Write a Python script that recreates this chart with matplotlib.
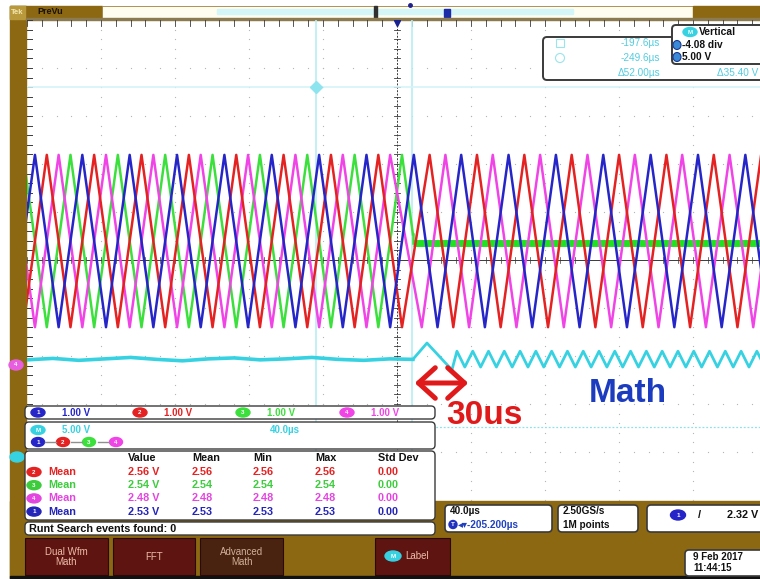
import numpy as np
import matplotlib.pyplot as plt
from matplotlib.patches import Rectangle, FancyBboxPatch, Ellipse, FancyArrowPatch

W, H = 760, 579

# ---- acquisition / trace data (time in us from screen centre, level in divisions) ----
TIME_PER_DIV_US = 40.0
CARRIER_PERIOD_US = 25.6
FIRST_PEAK_US = -195.7
TRI_HIGH_DIV = 2.19
TRI_LOW_DIV = -1.40
FAULT_US = 8.6
GREEN_HOLD_DIV = 0.35

CH_NAMES = ["1", "2", "3", "4"]
CH_COLORS = ["#2626c8", "#e42222", "#3ce03c", "#f044e6"]
PHASE_BEFORE = [0.0, 0.25, 0.75, 0.5]
PHASE_AFTER = [0.0, 1 / 3, None, 2 / 3]
DRAW_ORDER = [2, 3, 1, 0]

MATH_COLOR = "#36d2e2"
MATH_PRE_T = [-200, -186, -172, -158, -144, -130, -116, -102, -88, -74, -60, -46, -32, -18, -4, 8.6]
MATH_PRE_V = [-2.08, -2.05, -2.09, -2.06, -2.03, -2.07, -2.10, -2.06, -2.04, -2.08, -2.06, -2.03,
              -2.07, -2.09, -2.06, -2.07]
MATH_STEP_T = [8.6, 16.2, 29.7]
MATH_STEP_V = [-2.07, -1.73, -2.29]
RIPPLE_FIRST_PEAK_US = 32.4
RIPPLE_HIGH = -1.90
RIPPLE_LOW = -2.23

CURSOR_T = [-43.9, 8.1]
CURSOR_V = [3.60, -3.48]

# ---- readouts ----
MEAS_COLS = ["Value", "Mean", "Min", "Max", "Std Dev"]
MEAS_ROWS = [
    ("#e42222", ["2.56 V", "2.56", "2.56", "2.56", "0.00"]),
    ("#3ccc3c", ["2.54 V", "2.54", "2.54", "2.54", "0.00"]),
    ("#e444e0", ["2.48 V", "2.48", "2.48", "2.48", "0.00"]),
    ("#2424b8", ["2.53 V", "2.53", "2.53", "2.53", "0.00"]),
]
CH_SCALE = ["1.00 V", "1.00 V", "1.00 V", "1.00 V"]

BROWN = "#8c6812"
MAROON = "#5e1410"
FONTS = ["Liberation Sans", "DejaVu Sans"]
UI = dict(family=FONTS, fontweight="bold")


def tri_vertices(t0, t1, phase, period, first_peak, hi, lo):
    half = period / 2
    start = first_peak + phase * period
    k0 = np.floor((t0 - start) / half) - 1
    k1 = np.ceil((t1 - start) / half) + 1
    ks = np.arange(k0, k1 + 1).astype(int)
    ts = start + ks * half
    vs = np.where(ks % 2 == 0, hi, lo)
    return ts, vs


def segment(t0, t1, phase, period, first_peak, hi, lo):
    ts, vs = tri_vertices(t0, t1, phase, period, first_peak, hi, lo)
    keep = (ts > t0) & (ts < t1)
    tt = np.concatenate([[t0], ts[keep], [t1]])
    vv = np.concatenate([[np.interp(t0, ts, vs)], vs[keep], [np.interp(t1, ts, vs)]])
    return tt, vv


fig = plt.figure(figsize=(W / 100, H / 100), dpi=100)

# bezel / background in pixel coordinates
bg = fig.add_axes([0, 0, 1, 1], zorder=0)
bg.set_xlim(0, W)
bg.set_ylim(H, 0)
bg.axis("off")
bg.add_patch(Rectangle((10, 6), 16, H - 6, color=BROWN))
bg.add_patch(Rectangle((10, 6), 92, 13, color=BROWN))
bg.add_patch(Rectangle((10, 6), 15, 13, color="#b89a3c"))
bg.text(17, 12.5, "Tek", color="#f4e6b0", fontsize=5.5, ha="center", va="center", **UI)
bg.text(37, 12, "PreVu", color="#1a1206", fontsize=6.5, va="center", **UI)
bg.add_patch(Rectangle((102, 6), 591, 12, facecolor="#fffdf0", edgecolor="#a08040", lw=0.6))
bg.add_patch(Rectangle((217, 9), 356, 5, color="#d4f6f8"))
bg.add_patch(Rectangle((693, 6), 67, 13, color=BROWN))
bg.add_patch(Rectangle((374, 6), 2.5, 12, color="#303030"))
bg.add_patch(Rectangle((444, 9), 6, 8, color="#1c2ca8"))
bg.plot([410], [5], marker="o", ms=2.5, color="#20208a")
bg.add_patch(Rectangle((26, 18), 734, 2, color="#8c7a50"))
bg.add_patch(Rectangle((10, 501), 750, 76, color=BROWN))
bg.add_patch(Rectangle((10, 576), 750, 3, color="#111111"))

# waveform area: 10 x 10 divisions, 74 px x 48 px per division
x_left, x_right, y_top, y_bot = 27, 767, 20, 500
ax = fig.add_axes([x_left / W, (H - y_bot) / H, (x_right - x_left) / W, (y_bot - y_top) / H], zorder=1)
ax.set_xlim(-5 * TIME_PER_DIV_US, 5 * TIME_PER_DIV_US)
ax.set_ylim(-5, 5)
ax.axis("off")
ax.patch.set_alpha(0)

# graticule dots
for k in range(-4, 5):
    if k == 0:
        continue
    t = k * TIME_PER_DIV_US
    vv = np.arange(-5, 5.01, 0.2)
    ax.scatter(np.full_like(vv, t), vv, s=0.8, color="#b4b4b4", lw=0)
    ax.scatter(np.arange(-200, 201, 8), np.full(51, float(k)), s=0.8, color="#b4b4b4", lw=0)
# centre axes with ticks
ax.axhline(0, color="#3a3a3a", lw=0.7)
ax.axvline(0, color="#3a3a3a", lw=0.7, ls=(0, (2, 1.5)))
for t in np.arange(-200, 201, 8):
    ax.plot([t, t], [-0.06, 0.06], color="#3a3a3a", lw=0.5)
    ax.plot([t, t], [5, 4.88], color="#3a3a3a", lw=0.6)
for v in np.arange(-5, 5.01, 0.2):
    ax.plot([-1.5, 1.5], [v, v], color="#3a3a3a", lw=0.6)
    ax.plot([-200, -197.5], [v, v], color="#3a3a3a", lw=0.7)
ax.plot([0], [4.93], marker="v", ms=5, color="#1a2290")

# cursors
for t in CURSOR_T:
    ax.axvline(t, color="#b8eef4", lw=1.2)
ax.axhline(CURSOR_V[0], color="#d4f4f8", lw=1.2)
ax.axhline(CURSOR_V[1], color="#8fe0ea", lw=0.9, ls=(0, (1.5, 1.5)))
ax.plot([CURSOR_T[0]], [CURSOR_V[0]], marker="D", ms=6, color="#8ce4ee")

# channel traces
for i in DRAW_ORDER:
    if PHASE_AFTER[i] is None:
        t_pre, v_pre = segment(-201, FAULT_US, PHASE_BEFORE[i], CARRIER_PERIOD_US, FIRST_PEAK_US,
                               TRI_HIGH_DIV, TRI_LOW_DIV)
        ax.plot(t_pre, v_pre, color=CH_COLORS[i], lw=1.8)
        ax.plot([FAULT_US, FAULT_US], [v_pre[-1], GREEN_HOLD_DIV], color=CH_COLORS[i], lw=1.8)
        ax.plot([FAULT_US, 201], [GREEN_HOLD_DIV, GREEN_HOLD_DIV], color="#22e022", lw=5,
                solid_capstyle="butt")
        continue
    ta, va = tri_vertices(-201, FAULT_US, PHASE_BEFORE[i], CARRIER_PERIOD_US, FIRST_PEAK_US,
                          TRI_HIGH_DIV, TRI_LOW_DIV)
    tb, vb = tri_vertices(FAULT_US, 201, PHASE_AFTER[i], CARRIER_PERIOD_US, FIRST_PEAK_US,
                          TRI_HIGH_DIV, TRI_LOW_DIV)
    tt = np.concatenate([ta[ta < FAULT_US], tb[tb > FAULT_US]])
    vv = np.concatenate([va[ta < FAULT_US], vb[tb > FAULT_US]])
    # the phase jump can leave two equal vertices in a row; keep the ramp continuous
    keep = np.concatenate([[True], vv[1:] != vv[:-1]])
    ax.plot(tt[keep], vv[keep], color=CH_COLORS[i], lw=1.8)

# math trace
rt, rv = segment(RIPPLE_FIRST_PEAK_US, 201, 0.0, CARRIER_PERIOD_US / 3, RIPPLE_FIRST_PEAK_US,
                 RIPPLE_HIGH, RIPPLE_LOW)
ax.plot(MATH_PRE_T, MATH_PRE_V, color=MATH_COLOR, lw=2.6)
ax.plot(np.concatenate([MATH_STEP_T, rt]), np.concatenate([MATH_STEP_V, rv]), color=MATH_COLOR, lw=2.0)

# overlay: readout panels and annotations
ov = fig.add_axes([0, 0, 1, 1], zorder=2)
ov.set_xlim(0, W)
ov.set_ylim(H, 0)
ov.axis("off")
ov.patch.set_alpha(0)


def panel(x, y, w, h, fc="white", ec="#3a3a3a", lw=1.0, r=4):
    ov.add_patch(FancyBboxPatch((x, y), w, h, boxstyle=f"round,pad=0,rounding_size={r}",
                                facecolor=fc, edgecolor=ec, lw=lw))


def badge(x, y, color, label="", w=14, h=9):
    ov.add_patch(Ellipse((x, y), w, h, color=color))
    if label:
        ov.text(x, y + 0.3, label, color="white", fontsize=4.5, ha="center", va="center", **UI)


ov.add_patch(Ellipse((16, 365), 14, 10, color="#e85ee0"))
ov.text(16, 365, "4", color="white", fontsize=4.5, ha="center", va="center", **UI)
ov.add_patch(Ellipse((17, 457), 14, 10, color=MATH_COLOR))

# channel scale bar
panel(25, 406, 410, 13)
for i, x in enumerate([38, 140, 243, 347]):
    badge(x, 412.5, CH_COLORS[i], CH_NAMES[i])
    ov.text(x + 24, 412.5, CH_SCALE[i], color=CH_COLORS[i], fontsize=7, va="center", **UI)

# math definition panel
panel(25, 422, 410, 27)
badge(38, 430, MATH_COLOR, "M")
ov.text(62, 430, "5.00 V", color=MATH_COLOR, fontsize=7, va="center", **UI)
ov.text(270, 430, "40.0\u00b5s", color=MATH_COLOR, fontsize=7, va="center", **UI)
for i, x in enumerate([38, 63, 89, 116]):
    if i:
        ov.plot([x - 18, x - 7], [442, 442], color="#909090", lw=1)
    badge(x, 442, CH_COLORS[i], CH_NAMES[i], w=13)

# measurement table
panel(25, 451, 410, 69)
col_x = [128, 192, 253, 315, 378]
for x, name in zip(col_x, MEAS_COLS):
    ov.text(x, 458, name, color="#111111", fontsize=7.8, va="center", **UI)
for r, (color, vals) in enumerate(MEAS_ROWS):
    y = 472 + r * 13.2
    badge(34, y, color, CH_NAMES[[1, 2, 3, 0][r]])
    ov.text(48, y, "Mean", color=color, fontsize=7.8, va="center", **UI)
    for x, v in zip(col_x, vals):
        ov.text(x, y, v, color=color, fontsize=7.8, va="center", **UI)

panel(25, 522, 410, 13)
ov.text(29, 528.5, "Runt Search events found: 0", color="#111111", fontsize=7.8, va="center", **UI)

# soft keys
for x0, x1, label, fc, tc in [(25, 108, "Dual Wfm\nMath", MAROON, "#eebca8"),
                             (113, 195, "FFT", MAROON, "#eebca8"),
                             (200, 283, "Advanced\nMath", "#4a2210", "#d0b098")]:
    ov.add_patch(Rectangle((x0, 538), x1 - x0, 37, facecolor=fc, edgecolor="#2a0a06", lw=0.8))
    ov.text((x0 + x1) / 2, 557, label, color=tc, fontsize=7, ha="center", va="center",
            linespacing=1.1, family=FONTS)
ov.add_patch(Rectangle((375, 538), 75, 37, facecolor=MAROON, edgecolor="#2a0a06", lw=0.8))
badge(393, 556, MATH_COLOR, "M", w=16, h=10)
ov.text(405, 556, "Label", color="#eebca8", fontsize=7, va="center", family=FONTS)

# timebase / acquisition / trigger readouts
panel(445, 505, 107, 27, lw=1.2)
ov.text(450, 511.5, "40.0\u00b5s", color="#111111", fontsize=7.2, va="center", **UI)
badge(453, 524.5, "#2030c0", "T", w=8, h=8)
ov.text(458, 524.5, "\u25c2\u25be-205.200\u00b5s", color="#2040c0", fontsize=7.2, va="center", **UI)
panel(558, 505, 80, 27, lw=1.2)
ov.text(563, 511.5, "2.50GS/s", color="#111111", fontsize=7.2, va="center", **UI)
ov.text(563, 524.5, "1M points", color="#111111", fontsize=7.2, va="center", **UI)
panel(647, 505, 120, 27, lw=1.2)
badge(678, 515, "#2424c8", "1", w=15, h=10)
ov.text(698, 515, "/", color="#111111", fontsize=8, va="center", **UI)
ov.text(758, 515, "2.32 V", color="#111111", fontsize=7.8, ha="right", va="center", **UI)
panel(685, 550, 80, 26, lw=1.2)
ov.text(693, 557, "9 Feb 2017", color="#111111", fontsize=7, va="center", **UI)
ov.text(693, 568, "11:44:15", color="#111111", fontsize=7, va="center", **UI)

# cursor readout and vertical position panels
panel(543, 37, 225, 43, lw=1.4)
ov.add_patch(Rectangle((556, 39), 8, 8, facecolor="none", edgecolor="#9ae4ec", lw=0.8))
ov.add_patch(Ellipse((560, 58), 9, 9, facecolor="none", edgecolor="#9ae4ec", lw=0.8))
for y, s in [(43, "-197.6\u00b5s"), (58, "-249.6\u00b5s"), (73, "\u039452.00\u00b5s")]:
    ov.text(660, y, s, color="#52cce0", fontsize=7.2, ha="right", va="center", family=FONTS)
ov.text(758, 73, "\u039435.40 V", color="#52cce0", fontsize=7.2, ha="right", va="center",
        family=FONTS)
panel(672, 25, 95, 39, lw=1.4)
badge(690, 32, MATH_COLOR, "M", w=14, h=9)
ov.text(699, 32, "Vertical", color="#111111", fontsize=7.5, va="center", **UI)
for y, s in [(45, "-4.08 div"), (57, "5.00 V")]:
    ov.add_patch(Ellipse((677, y), 8, 9, facecolor="#3a8ad8", edgecolor="#1a3a90", lw=0.8))
    ov.text(682, y, s, color="#111111", fontsize=7.3, va="center", **UI)

# fault annotation
ov.add_patch(FancyArrowPatch((412, 383), (471, 383), arrowstyle="<->,head_length=0.55,head_width=0.5",
                             mutation_scale=22, lw=3.6, color="#e01a1a"))
ov.text(446, 415, "30us", color="#e01a1a", fontsize=24, va="center", family=FONTS, fontweight="bold")
ov.text(589, 393, "Math", color="#1c3cc0", fontsize=24, va="center", family=FONTS, fontweight="bold")

fig.savefig("out.png", dpi=100)
